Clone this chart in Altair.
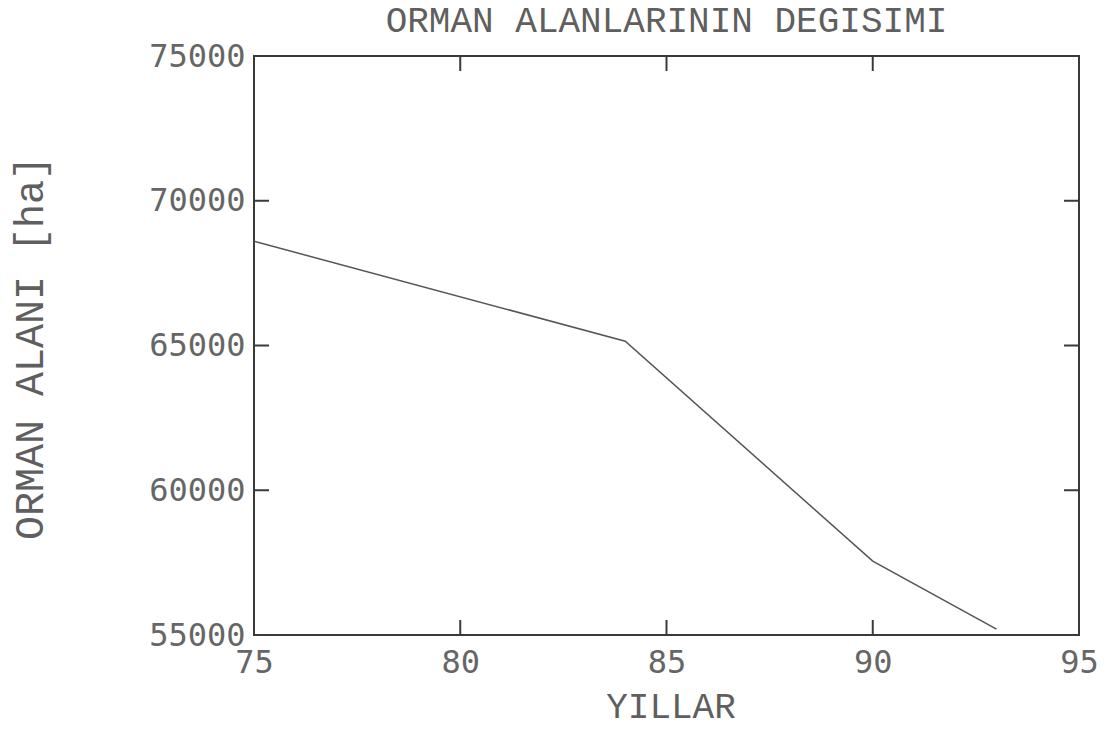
import altair as alt
import pandas as pd

years = [75, 84, 90, 93]
area = [68600, 65150, 57550, 55200]

x_ticks = [80, 85, 90]
y_ticks = [60000, 65000, 70000]
x_labels = [75, 80, 85, 90, 95]
y_labels = [55000, 60000, 65000, 70000, 75000]

W, H = 825, 579
TL = 15
INK = "#5f5f5f"
FRAME = "#3a3a3a"
MONO = "Liberation Mono"

df = pd.DataFrame({"YIL": years, "ALAN": area})
xt = pd.DataFrame({"YIL": x_ticks})
yt = pd.DataFrame({"ALAN": y_ticks})

xscale = alt.Scale(domain=[75, 95], nice=False, zero=False)
yscale = alt.Scale(domain=[55000, 75000], nice=False, zero=False)

xaxis = alt.Axis(
    values=x_labels, domain=False, ticks=False, grid=False,
    labelFont="DejaVu Sans Mono", labelFontSize=32, labelColor="#666666",
    labelPadding=12, labelFlush=False,
    title="YILLAR", titleFont=MONO, titleFontSize=36,
    titleFontWeight="normal", titleColor=INK,
    titleX=W / 2 + 4, titleY=71, titleBaseline="middle", titleAlign="center",
)
yaxis = alt.Axis(
    values=y_labels, domain=False, ticks=False, grid=False, format="d",
    labelFont="DejaVu Sans Mono", labelFontSize=32, labelColor="#666666",
    labelPadding=9, labelFlush=False,
    title="ORMAN ALANI [ha]", titleFont=MONO, titleFontSize=40,
    titleFontWeight="normal", titleColor=INK, titleAngle=270,
    titleX=-224, titleY=H / 2 + 2, titleBaseline="middle", titleAlign="center",
)

line = alt.Chart(df).mark_line(color="#555555", strokeWidth=1.5).encode(
    x=alt.X("YIL:Q", scale=xscale, axis=xaxis),
    y=alt.Y("ALAN:Q", scale=yscale, axis=yaxis),
)

top_t = alt.Chart(xt).mark_rule(color=FRAME, strokeWidth=2).encode(
    x=alt.X("YIL:Q", scale=xscale), y=alt.value(0), y2=alt.value(TL))
bot_t = alt.Chart(xt).mark_rule(color=FRAME, strokeWidth=2).encode(
    x=alt.X("YIL:Q", scale=xscale), y=alt.value(H - TL), y2=alt.value(H))
left_t = alt.Chart(yt).mark_rule(color=FRAME, strokeWidth=2).encode(
    y=alt.Y("ALAN:Q", scale=yscale), x=alt.value(0), x2=alt.value(TL))
right_t = alt.Chart(yt).mark_rule(color=FRAME, strokeWidth=2).encode(
    y=alt.Y("ALAN:Q", scale=yscale), x=alt.value(W - TL), x2=alt.value(W))

chart = alt.layer(line, top_t, bot_t, left_t, right_t).properties(
    width=W, height=H,
    autosize=alt.AutoSizeParams(type="none"),
    padding={"left": 246, "top": 48, "right": 19, "bottom": 85},
    title=alt.TitleParams(
        "ORMAN ALANLARININ DEGISIMI", font=MONO, fontSize=36,
        fontWeight="normal", color=INK, anchor="middle", offset=0,
    ),
    background="white",
).configure_view(stroke=FRAME, strokeWidth=2)

chart.save("out.html", embed_options={"renderer": "svg", "actions": False})
